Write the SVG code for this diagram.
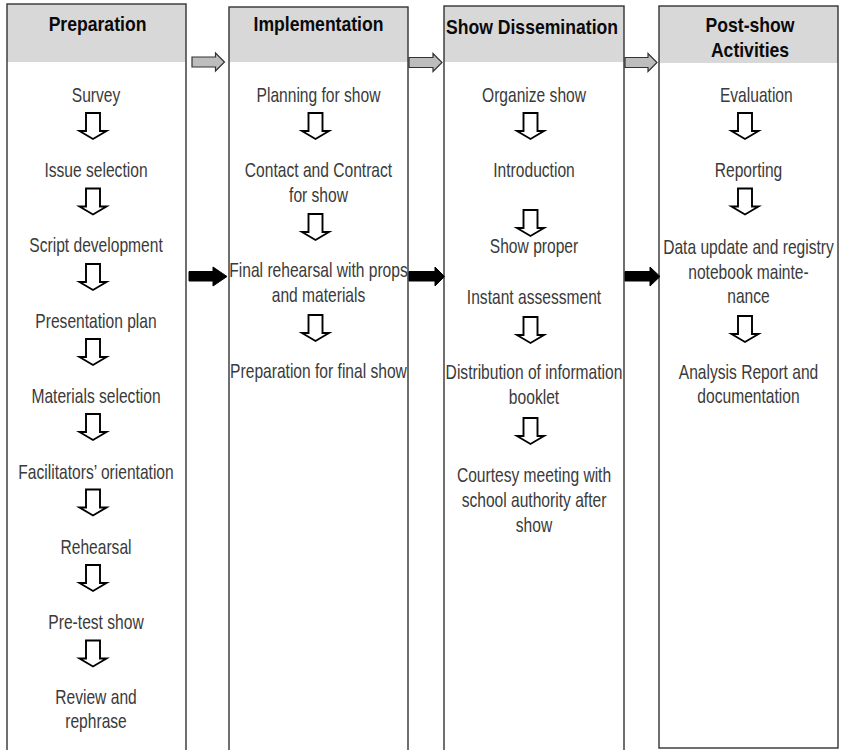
<svg xmlns="http://www.w3.org/2000/svg" xmlns:xlink="http://www.w3.org/1999/xlink" width="844" height="750" viewBox="0 0 844 750">
<style>
  .hdr { fill: #d8d8d8; }
  .body { fill: #ffffff; }
  .frame { fill: none; stroke: #333333; stroke-width: 1.4; }
  .htxt { font-family: "Liberation Sans", Arial, sans-serif; font-size: 20px; font-weight: bold; fill: #0a0a0a; text-anchor: middle; }
  .txt { font-family: "Liberation Sans", Arial, sans-serif; font-size: 20px; fill: #3a3a3a; text-anchor: middle; }
  .down { fill: #ffffff; stroke: #000000; stroke-width: 1.9; stroke-linejoin: miter; }
  .grey { fill: #bdbdbd; stroke: #333333; stroke-width: 1.2; }
  .black { fill: #000000; stroke: #000000; stroke-width: 1; }
</style>
<defs>
  <path id="dn" class="down" d="M -7 0 H 7 V 18 H 13.5 L 0 26 L -13.5 18 H -7 Z"/>
</defs>
<rect x="0" y="0" width="844" height="750" fill="#ffffff"/>

<g id="col-preparation">
  <rect class="body" x="7" y="4" width="179" height="770"/>
  <rect class="hdr" x="7" y="4" width="179" height="58"/>
  <rect class="frame" x="7" y="4" width="179" height="770"/>
  <g transform="translate(97.5,0) scale(0.88,1)"><text class="htxt" x="0" y="31">Preparation</text></g>
</g>
<g id="col-implementation">
  <rect class="body" x="229" y="7" width="179" height="770"/>
  <rect class="hdr" x="229" y="7" width="179" height="55"/>
  <rect class="frame" x="229" y="7" width="179" height="770"/>
  <g transform="translate(318.5,0) scale(0.88,1)"><text class="htxt" x="0" y="31">Implementation</text></g>
</g>
<g id="col-dissemination">
  <rect class="body" x="444" y="6" width="180" height="770"/>
  <rect class="hdr" x="444" y="6" width="180" height="56"/>
  <rect class="frame" x="444" y="6" width="180" height="770"/>
  <g transform="translate(532,0) scale(0.88,1)"><text class="htxt" x="0" y="34">Show Dissemination</text></g>
</g>
<g id="col-postshow">
  <rect class="body" x="659" y="6" width="179" height="742"/>
  <rect class="hdr" x="659" y="6" width="179" height="57"/>
  <rect class="frame" x="659" y="6" width="179" height="742"/>
  <g transform="translate(750,0) scale(0.88,1)">
    <text class="htxt" x="0" y="32">Post-show</text>
    <text class="htxt" x="0" y="57">Activities</text>
  </g>
</g>

<g id="steps-preparation" transform="translate(96,0) scale(0.78,1)">
  <g id="p1"><text class="txt" x="0" y="102">Survey</text></g>
  <g id="p2"><text class="txt" x="0" y="177">Issue selection</text></g>
  <g id="p3"><text class="txt" x="0" y="252.5">Script development</text></g>
  <g id="p4"><text class="txt" x="0" y="328">Presentation plan</text></g>
  <g id="p5"><text class="txt" x="0" y="403">Materials selection</text></g>
  <g id="p6"><text class="txt" x="0" y="479">Facilitators’ orientation</text></g>
  <g id="p7"><text class="txt" x="0" y="554">Rehearsal</text></g>
  <g id="p8"><text class="txt" x="0" y="629">Pre-test show</text></g>
  <g id="p9"><text class="txt" x="0" y="704.5">Review and</text><text class="txt" x="0" y="728">rephrase</text></g>
</g>
<g id="steps-implementation" transform="translate(318.5,0) scale(0.78,1)">
  <g id="i1"><text class="txt" x="0" y="102">Planning for show</text></g>
  <g id="i2"><text class="txt" x="0" y="177">Contact and Contract</text><text class="txt" x="0" y="202">for show</text></g>
  <g id="i3"><text class="txt" x="0" y="277">Final rehearsal with props</text><text class="txt" x="0" y="302">and materials</text></g>
  <g id="i4"><text class="txt" x="0" y="378">Preparation for final show</text></g>
</g>
<g id="steps-dissemination" transform="translate(534,0) scale(0.78,1)">
  <g id="d1"><text class="txt" x="0" y="102">Organize show</text></g>
  <g id="d2"><text class="txt" x="0" y="177">Introduction</text></g>
  <g id="d3"><text class="txt" x="0" y="253">Show proper</text></g>
  <g id="d4"><text class="txt" x="0" y="304">Instant assessment</text></g>
  <g id="d5"><text class="txt" x="0" y="379.5">Distribution of information</text><text class="txt" x="0" y="404">booklet</text></g>
  <g id="d6"><text class="txt" x="0" y="482">Courtesy meeting with</text><text class="txt" x="0" y="507">school authority after</text><text class="txt" x="0" y="532">show</text></g>
</g>
<g id="steps-postshow" transform="translate(748.5,0) scale(0.78,1)">
  <g id="s1"><text class="txt" x="10" y="102">Evaluation</text></g>
  <g id="s2"><text class="txt" x="0" y="177">Reporting</text></g>
  <g id="s3"><text class="txt" x="0" y="254">Data update and registry</text><text class="txt" x="0" y="279">notebook mainte-</text><text class="txt" x="0" y="303">nance</text></g>
  <g id="s4"><text class="txt" x="0" y="379">Analysis Report and</text><text class="txt" x="0" y="403">documentation</text></g>
</g>

<g id="connectors">
  <!-- down arrows: preparation -->
  <use xlink:href="#dn" href="#dn" transform="translate(93,113)"/>
  <use xlink:href="#dn" href="#dn" transform="translate(93,188.5)"/>
  <use xlink:href="#dn" href="#dn" transform="translate(93,264)"/>
  <use xlink:href="#dn" href="#dn" transform="translate(93,339)"/>
  <use xlink:href="#dn" href="#dn" transform="translate(93,414)"/>
  <use xlink:href="#dn" href="#dn" transform="translate(93,489.5)"/>
  <use xlink:href="#dn" href="#dn" transform="translate(93,565)"/>
  <use xlink:href="#dn" href="#dn" transform="translate(93,640.5)"/>
  <!-- implementation -->
  <use xlink:href="#dn" href="#dn" transform="translate(315.5,113)"/>
  <use xlink:href="#dn" href="#dn" transform="translate(315.5,214)"/>
  <use xlink:href="#dn" href="#dn" transform="translate(315.5,315)"/>
  <!-- dissemination -->
  <use xlink:href="#dn" href="#dn" transform="translate(530.5,113)"/>
  <use xlink:href="#dn" href="#dn" transform="translate(530.5,210)"/>
  <use xlink:href="#dn" href="#dn" transform="translate(530.5,317)"/>
  <use xlink:href="#dn" href="#dn" transform="translate(530.5,418)"/>
  <!-- post-show -->
  <use xlink:href="#dn" href="#dn" transform="translate(745,113)"/>
  <use xlink:href="#dn" href="#dn" transform="translate(745,188.5)"/>
  <use xlink:href="#dn" href="#dn" transform="translate(745,316)"/>

  <!-- grey header arrows -->
  <path class="grey" d="M 192 57 H 215.5 V 53 L 224.5 62 L 215.5 71 V 67 H 192 Z"/>
  <path class="grey" d="M 409 57.5 H 433 V 53.5 L 442 62.5 L 433 71.5 V 67.5 H 409 Z"/>
  <path class="grey" d="M 625 57.5 H 648 V 53.5 L 657 62.5 L 648 71.5 V 67.5 H 625 Z"/>

  <!-- black arrows -->
  <path class="black" d="M 189 271.5 H 213 V 267 L 227 276.5 L 213 286 V 281 H 189 Z"/>
  <path class="black" d="M 409 271.5 H 435 V 267 L 444.5 276.5 L 435 286 V 281 H 409 Z"/>
  <path class="black" d="M 625 271.5 H 650 V 267 L 660 276.5 L 650 286 V 281 H 625 Z"/>
</g>
</svg>
